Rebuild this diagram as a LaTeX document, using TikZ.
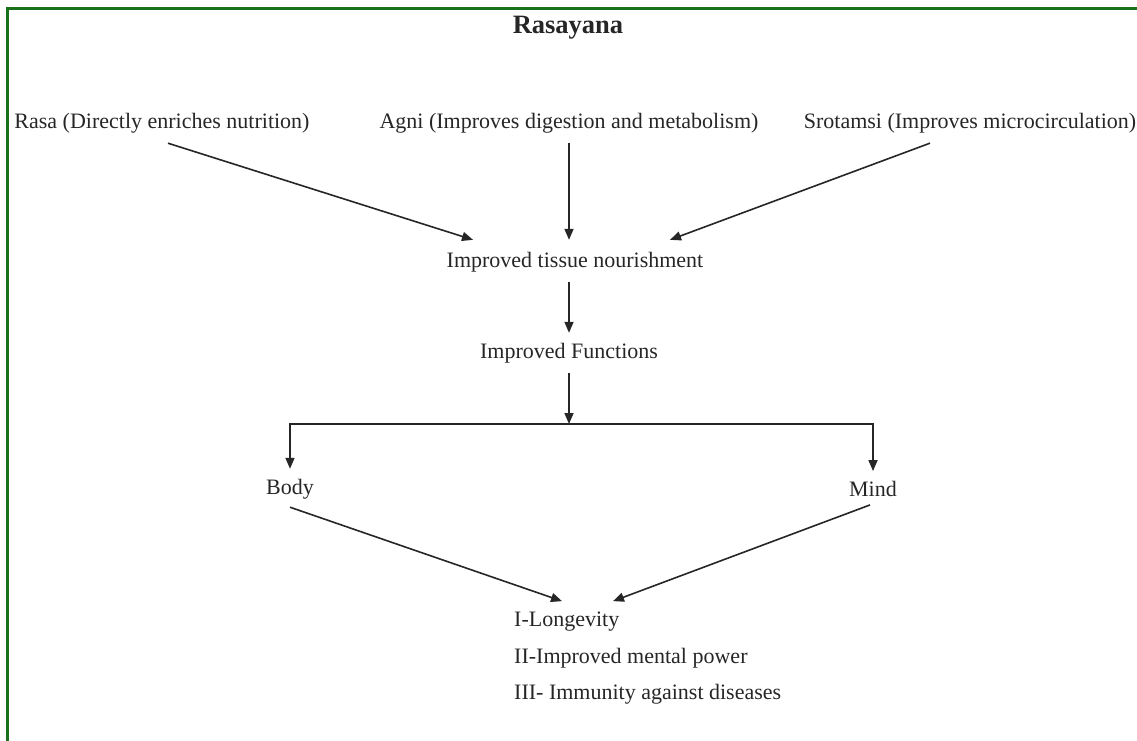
\documentclass[tikz,border=0pt]{standalone}
\usepackage{fontspec}
\setmainfont{Liberation Serif}
\usepackage{tikz}
\usetikzlibrary{positioning,arrows.meta}
\definecolor{framegreen}{RGB}{24,112,24}

\begin{document}
\begin{tikzpicture}[x=1pt,y=1pt]
	% Define styles
	\tikzstyle{label} = [inner sep=0pt, font=\fontsize{22}{26}\selectfont, text=black!85]
	\tikzstyle{titlelabel} = [label, font=\fontsize{26.5}{31}\selectfont\bfseries]
	\tikzstyle{outcome} = [label, anchor=west]
	\tikzstyle{arrow} = [line width=1.6pt, black!85, -{Triangle[length=11pt,width=9pt]}]
	
	% Global settings
	\useasboundingbox (0,0) rectangle (1137,-741);
	\draw [framegreen, line width=3pt] (7.5,-1200) -- (7.5,-8.5) -- (1200,-8.5);
	
	% Place nodes
	\node [titlelabel] (rasayana) at (568,-28) {Rasayana};
	\node [label] (rasa) at (162,-123) {Rasa (Directly enriches nutrition)};
	\node [label] (agni) at (569,-123) {Agni (Improves digestion and metabolism)};
	\node [label] (srotamsi) at (970,-123) {Srotamsi (Improves microcirculation)};
	\node [label] (tissue) at (575,-262) {Improved tissue nourishment};
	\node [label] (functions) at (569,-353) {Improved Functions};
	\node [label] (body) at (290,-489) {Body};
	\node [label] (mind) at (873,-489) {Mind};
	\node [outcome] (longevity) at (514,-622) {I-Longevity};
	\node [outcome] (mental) at (514,-658) {II-Improved mental power};
	\node [outcome] (immunity) at (514,-694) {III- Immunity against diseases};
	
	% Split point
	\coordinate (split) at (569,-424);
	
	% Draw arrows
	\draw [arrow] ([xshift=6pt,yshift=-10pt]rasa.south) -- ([xshift=-102pt,yshift=12pt]tissue.north);
	\draw [arrow] ([yshift=-10pt]agni.south) -- ([xshift=-6pt,yshift=12pt]tissue.north);
	\draw [arrow] ([xshift=-40pt,yshift=-10pt]srotamsi.south) -- ([xshift=95pt,yshift=12pt]tissue.north);
	\draw [arrow] ([xshift=-6pt,yshift=-10pt]tissue.south) -- ([yshift=10pt]functions.north);
	\draw [arrow] ([yshift=-10pt]functions.south) -- (split);
	\draw [arrow] (split) -| ([yshift=10pt]body.north);
	\draw [arrow] (split) -| ([yshift=10pt]mind.north);
	\draw [arrow] ([yshift=-8pt]body.south) -- ([xshift=48pt,yshift=11pt]longevity.north west);
	\draw [arrow] ([xshift=-3pt,yshift=-8pt]mind.south) -- ([xshift=99pt,yshift=11pt]longevity.north west);
\end{tikzpicture}
\end{document}
